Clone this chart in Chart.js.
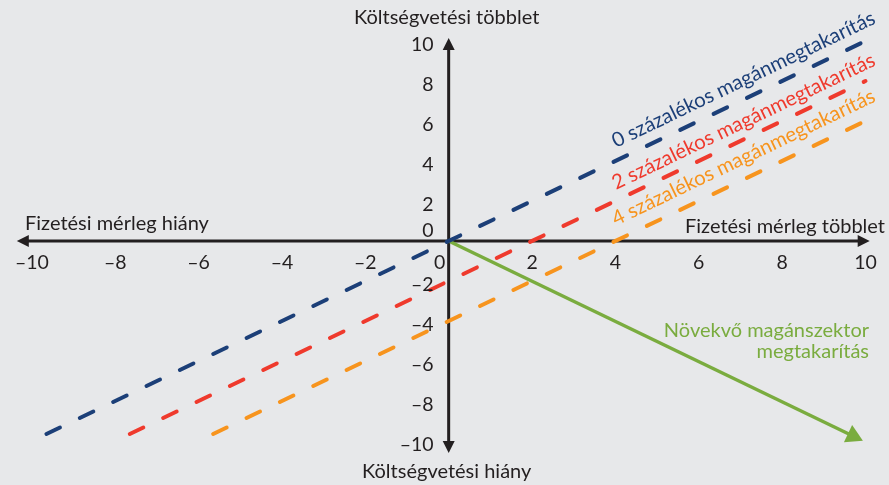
<!DOCTYPE html>
<html>
<head>
<meta charset="utf-8">
<script src="https://cdn.jsdelivr.net/npm/chart.js@4/dist/chart.umd.min.js"></script>
<style>
  html, body { margin: 0; padding: 0; background: #e7e8ea; }
  #wrap { width: 889px; height: 485px; }
</style>
</head>
<body>
<div id="wrap"><canvas id="chart"></canvas></div>
<script>
// tick labels
const xTicks = [-10, -8, -6, -4, -2, 0, 2, 4, 6, 8, 10];
const yTicks = [10, 8, 6, 4, 2, 0, -2, -4, -6, -8, -10];

// budget balance = current account balance - private savings
const lineNames = [
  "0 százalékos magánmegtakarítás",
  "2 százalékos magánmegtakarítás",
  "4 százalékos magánmegtakarítás",
];
const saving0X = [-9.65, 10];
const saving0Y = [-9.65, 10];
const saving2X = [-7.65, 10];
const saving2Y = [-9.65, 8];
const saving4X = [-5.65, 10];
const saving4Y = [-9.65, 6];

// growing private saving arrow
const privateX = [0, 9.7];
const privateY = [0, -9.75];
const privateName = ["Növekvő magánszektor", "megtakarítás"];

const titleTop = "Költségvetési többlet";
const titleBottom = "Költségvetési hiány";
const titleLeft = "Fizetési mérleg hiány";
const titleRight = "Fizetési mérleg többlet";

const colors = ["#1c3f78", "#ef3a2d", "#f7941e"];
const green = "#7aac3f";
const ink = "#231f20";
const font = "Lato, 'Open Sans', sans-serif";

function pts(xs, ys) {
  return xs.map((x, i) => ({ x: x, y: ys[i] }));
}

function dashed(i, xs, ys) {
  return {
    label: lineNames[i],
    data: pts(xs, ys),
    showLine: true,
    borderColor: colors[i],
    borderWidth: 4,
    borderDash: [15, 22],
    borderCapStyle: "round",
    pointRadius: 0,
  };
}

function arrowHead(ctx, x, y, dx, dy) {
  // filled triangle with tip at (x, y) pointing along (dx, dy)
  const len = 12, half = 6;
  ctx.beginPath();
  ctx.moveTo(x, y);
  ctx.lineTo(x - dx * len - dy * half, y - dy * len + dx * half);
  ctx.lineTo(x - dx * len + dy * half, y - dy * len - dx * half);
  ctx.closePath();
  ctx.fill();
}

const decor = {
  id: "decor",
  beforeDatasetsDraw(chart) {
    const ctx = chart.ctx;
    const xs = chart.scales.x, ys = chart.scales.y;
    const ox = xs.getPixelForValue(0), oy = ys.getPixelForValue(0);
    const l = xs.getPixelForValue(-10.36), r = xs.getPixelForValue(10.1);
    const t = ys.getPixelForValue(10.15), b = ys.getPixelForValue(-10.6);
    ctx.save();
    ctx.strokeStyle = ink;
    ctx.fillStyle = ink;
    ctx.lineWidth = 3;
    ctx.beginPath();
    ctx.moveTo(l + 8, oy); ctx.lineTo(r - 8, oy);
    ctx.moveTo(ox, t + 8); ctx.lineTo(ox, b - 8);
    ctx.stroke();
    arrowHead(ctx, l, oy, -1, 0);
    arrowHead(ctx, r, oy, 1, 0);
    arrowHead(ctx, ox, t, 0, -1);
    arrowHead(ctx, ox, b, 0, 1);
    ctx.restore();
  },
  afterDatasetsDraw(chart) {
    const ctx = chart.ctx;
    const xs = chart.scales.x, ys = chart.scales.y;
    const ox = xs.getPixelForValue(0), oy = ys.getPixelForValue(0);
    ctx.save();
    ctx.fillStyle = ink;
    ctx.font = "19.5px " + font;

    // x tick labels
    ctx.textAlign = "center";
    ctx.textBaseline = "middle";
    xTicks.forEach(v => {
      const px = v === 0 ? ox - 9 : xs.getPixelForValue(v);
      ctx.fillText(String(v).replace("-", "\u2013"), px, oy + 22);
    });
    // y tick labels
    ctx.textAlign = "right";
    yTicks.forEach(v => {
      const py = v === 0 ? oy - 10 : ys.getPixelForValue(v) + 4;
      ctx.fillText(String(v).replace("-", "\u2013"), ox - 15, py);
    });

    // axis titles
    ctx.font = "20px " + font;
    ctx.textAlign = "center";
    ctx.fillText(titleTop, ox - 2, 18);
    ctx.fillText(titleBottom, ox - 2, 472);
    ctx.textAlign = "left";
    ctx.fillText(titleLeft, 25, oy - 17);
    ctx.textAlign = "right";
    ctx.fillText(titleRight, 885, oy - 14);

    // rotated series labels
    const ang = Math.atan2(ys.getPixelForValue(0) - ys.getPixelForValue(1),
                           xs.getPixelForValue(1) - xs.getPixelForValue(0));
    const starts = [148, 190, 226];
    ctx.font = "20.4px " + font;
    ctx.textAlign = "left";
    ctx.textBaseline = "alphabetic";
    lineNames.forEach((name, i) => {
      ctx.save();
      ctx.translate(616, starts[i]);
      ctx.rotate(-ang);
      ctx.fillStyle = colors[i];
      ctx.fillText(name, 0, 0);
      ctx.restore();
    });

    // green label
    ctx.font = "20px " + font;
    ctx.fillStyle = green;
    ctx.textAlign = "right";
    ctx.textBaseline = "middle";
    ctx.fillText(privateName[0], 869, 331);
    ctx.fillText(privateName[1], 869, 352);
    ctx.restore();
  },
};

new Chart(document.getElementById("chart"), {
  type: "scatter",
  data: {
    datasets: [
      dashed(0, saving0X, saving0Y),
      dashed(1, saving2X, saving2Y),
      dashed(2, saving4X, saving4Y),
      {
        label: privateName.join(" "),
        data: pts(privateX, privateY),
        showLine: true,
        borderColor: green,
        borderWidth: 3.5,
        pointRadius: [0, 11],
        pointStyle: "triangle",
        pointRotation: 115.5,
        pointBackgroundColor: green,
        pointBorderWidth: 0,
      },
    ],
  },
  options: {
    responsive: true,
    maintainAspectRatio: false,
    animation: false,
    events: [],
    layout: { padding: { left: 5.3, right: 2.8, top: 9, bottom: 24 } },
    plugins: { legend: { display: false }, tooltip: { enabled: false } },
    scales: {
      x: { type: "linear", min: -10.5, max: 10.3, display: false },
      y: { type: "linear", min: -11, max: 11.5, display: false },
    },
  },
  plugins: [decor],
});
</script>
</body>
</html>
